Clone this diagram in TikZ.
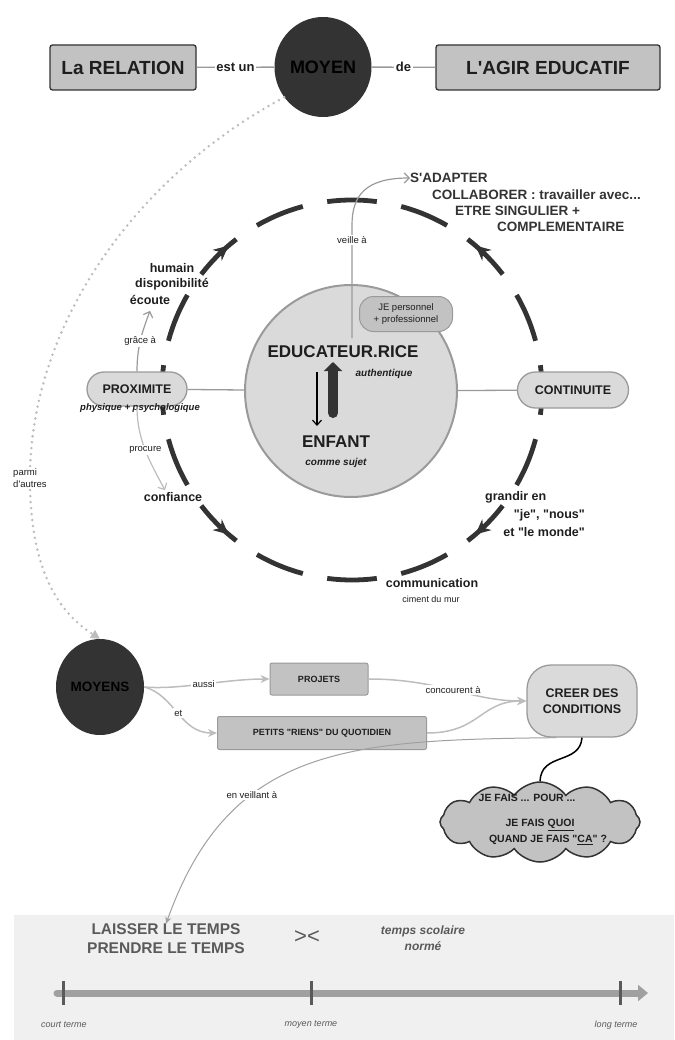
\documentclass[tikz,border=0pt]{standalone}
\usepackage{fontspec}
\setmainfont{Liberation Sans}[Ligatures=TeXOff]
\usetikzlibrary{arrows.meta,shapes.geometric,shapes.symbols,decorations.markings,calc}
\definecolor{dk}{HTML}{333333}
\definecolor{txt}{HTML}{1E1E1E}
\definecolor{boxfill}{HTML}{C2C2C2}
\definecolor{lightfill}{HTML}{DADADA}
\definecolor{edge}{HTML}{9A9A9A}
\definecolor{garr}{HTML}{BDBDBD}
\definecolor{band}{HTML}{F0F0F0}
\definecolor{gtxt}{HTML}{5A5A5A}
\definecolor{gline}{HTML}{A0A0A0}
\newcommand{\fsz}[2]{\fontsize{#1pt}{#2pt}\selectfont}
\begin{document}
\begin{tikzpicture}[x=1pt,y=-1pt,
  every node/.style={text=txt, inner sep=0pt},
  topbox/.style={draw=dk, line width=1.3pt, fill=boxfill, rounded corners=2.5pt, minimum height=45pt, font=\bfseries\fsz{19}{22}},
  darkcirc/.style={ellipse, fill=dk, text=black, font=\bfseries\fsz{18}{20}},
  pill/.style={draw=edge, line width=1.3pt, fill=lightfill, rounded corners=17pt, font=\bfseries\fsz{12.5}{14}},
  seg/.style={draw=dk, line width=4.8pt},
  thinl/.style={draw=edge, line width=1.3pt},
  lab/.style={fill=white, inner sep=1.5pt, font=\fsz{9.5}{11}},
  circlab/.style={font=\bfseries\fsz{12.5}{15}},
  garrow/.style={draw=garr, line width=1.5pt, -{Stealth[length=9pt,width=8pt]}},
  chev/.style={draw=edge, line width=1.2pt, -{Straight Barb[length=5pt,width=10pt]}},
  smallbox/.style={draw=edge, line width=1pt, fill=boxfill, rounded corners=2pt, font=\bfseries\fsz{9}{11}},
  arrseg/.style={seg, postaction=decorate, decoration={markings, mark=at position 0.8 with {\arrow{Stealth[length=15pt,width=14pt]}}}},
]
\useasboundingbox (0,0) rectangle (674,1040);
\fill[band] (14,915) rectangle (674,1040);

% ---------- top row
\node[topbox, minimum width=146pt] (rel) at (123,67.5) {La RELATION};
\node[darkcirc, minimum width=97pt, minimum height=100pt] (moyen) at (323,67) {MOYEN};
\node[topbox, minimum width=224pt] (agir) at (548,67.5) {L'AGIR EDUCATIF};
\draw[thinl] (rel) -- node[lab, font=\bfseries\fsz{13}{15}] (estun) {est un} (moyen);
\draw[thinl] (moyen) -- node[lab, font=\bfseries\fsz{13}{15}] (de) {de} (agir);

% ---------- dashed circle
\coordinate (C) at (352,390);
\foreach \a in {240,262.5,285,330,352.5,15,60,82.5,105,150,172.5,195}
  \draw[seg] ($(C)+(\a:190)$) arc[start angle=\a, delta angle=15, radius=190];
\draw[arrseg] ($(C)+(217.5:190)$) arc[start angle=217.5, delta angle=15, radius=190];
\draw[arrseg] ($(C)+(322.5:190)$) arc[start angle=322.5, delta angle=-15, radius=190];
\draw[arrseg] ($(C)+(37.5:190)$) arc[start angle=37.5, delta angle=15, radius=190];
\draw[arrseg] ($(C)+(142.5:190)$) arc[start angle=142.5, delta angle=-15, radius=190];

% ---------- centre
\node[circle, draw=edge, line width=2pt, fill=lightfill, minimum size=212pt] (edu) at (351,391) {};
\node[font=\bfseries\fsz{17}{20}] (edut) at (343,352) {EDUCATEUR.RICE};
\node[font=\bfseries\itshape\fsz{10}{12}] (auth) at (384,374) {authentique};
\node[font=\bfseries\fsz{17}{20}] (enf) at (336,442) {ENFANT};
\node[font=\bfseries\itshape\fsz{10}{12}] (sujet) at (336,463) {comme sujet};
\coordinate (up0) at (333,413);
\coordinate (up1) at (333,362);
\draw[draw=dk, line width=10pt, line cap=round, -{Triangle[length=9pt,width=18pt]}] (up0) -- (up1);
\coordinate (dn0) at (317,372);
\coordinate (dn1) at (317,426);
\draw[draw=black, line width=1.2pt, -{Straight Barb[length=5pt,width=9pt]}] (dn0) -- (dn1);
\node[draw=edge, line width=1pt, fill=boxfill, rounded corners=14pt, minimum width=93pt, minimum height=35pt, align=center, font=\fsz{9.5}{11.5}] (je) at (406,314) {JE personnel\\+ professionnel};

% ---------- side nodes
\node[pill, minimum width=100pt, minimum height=34pt] (prox) at (137,389) {PROXIMITE};
\node[pill, minimum width=111pt, minimum height=36pt, rounded corners=18pt] (cont) at (573,390) {CONTINUITE};
\node[font=\bfseries\itshape\fsz{9.5}{11}] (proxsub) at (140,408) {physique + psychologique};
\draw[thinl] (prox) -- (edu);
\draw[thinl] (edu) -- (cont);

% ---------- veille a
\coordinate (vstart) at (352,338);
\coordinate (vmid) at (352,225);
\node[anchor=west, font=\bfseries\fsz{13.5}{15}, text=dk] (adapt) at (410,178) {S'ADAPTER};
\node[anchor=west, font=\bfseries\fsz{13.5}{15}, text=dk] (collab) at (432,195) {COLLABORER : travailler avec...};
\node[anchor=west, font=\bfseries\fsz{13.5}{15}, text=dk] (etre) at (455,211) {ETRE SINGULIER +};
\node[anchor=west, font=\bfseries\fsz{13.5}{15}, text=dk] (compl) at (497,227) {COMPLEMENTAIRE};
\draw[chev] (vstart) -- node[lab, pos=0.87] (veille) {veille à} (vmid) .. controls (352,195) and (366,178) .. (adapt.west);

% ---------- circle labels
\node[circlab] (humain) at (172,268) {humain};
\node[circlab] (dispo) at (172,284) {disponibilité};
\node[circlab] (ecoute) at (150,300) {écoute};
\node[circlab] (conf) at (173,497) {confiance};
\node[circlab] (comm) at (432,583) {communication};
\node[font=\fsz{9}{11}] (ciment) at (431,599) {ciment du mur};
\node[circlab, anchor=west] (gr1) at (485,497) {grandir en};
\node[circlab, anchor=east] (gr2) at (585,515) {"je", "nous"};
\node[circlab, anchor=east] (gr3) at (585,532) {et "le monde"};

\draw[chev] (prox.north) .. controls (137,345) and (143,330) .. node[lab, pos=0.45] (grace) {grâce à} ($(ecoute.south)+(0,6)$);
\draw[chev, draw=garr] (prox.south) .. controls (137,440) and (150,462) .. node[lab, pos=0.5] (procure) {procure} ($(conf.north)+(-8,-2)$);

% ---------- dotted
\node[darkcirc, minimum width=88pt, minimum height=96pt, font=\bfseries\fsz{13.5}{15}] (moyens) at (100,687) {MOYENS};
\draw[draw=garr, line width=2.8pt, line cap=round, dash pattern=on 0pt off 6pt, -{Triangle[length=9pt,width=9pt]}]
  (moyen.218) .. controls (130,180) and (30,330) .. (30,478)
  node[lab, align=left, font=\fsz{9.5}{12}, pos=1] (parmi) {parmi\\d'autres}
  .. controls (30,565) and (55,610) .. (moyens.north);

% ---------- lower row
\node[smallbox, minimum width=98pt, minimum height=32pt] (proj) at (319,679) {PROJETS};
\node[smallbox, minimum width=209pt, minimum height=33pt] (petits) at (322,733) {PETITS "RIENS" DU QUOTIDIEN};
\node[pill, minimum width=110pt, minimum height=72pt, rounded corners=24pt, align=center, font=\bfseries\fsz{12.5}{16}] (creer) at (582,701) {CREER DES\\CONDITIONS};
\draw[garrow] (moyens.east) .. controls (180,690) and (225,679) .. node[lab, pos=0.5] (aussi) {aussi} (proj.west);
\draw[garrow] (moyens.east) .. controls (175,695) and (180,733) .. node[lab, pos=0.5] (et) {et} (petits.west);
\draw[garrow] (proj.east) .. controls (440,679) and (470,701) .. node[lab, pos=0.5] (conc) {concourent à} (creer.west);
\draw[garrow] (petits.east) .. controls (480,733) and (480,701) .. (creer.west);

% ---------- cloud
\node[cloud, cloud puffs=12, cloud puff arc=110, aspect=2.5, draw=dk, line width=1.5pt, fill=boxfill, minimum width=200pt, minimum height=80pt] (cloud) at (540,822) {};
\node[font=\bfseries\fsz{10.5}{12}] (c1) at (527,798) {JE FAIS ... POUR ...};
\node[font=\bfseries\fsz{10.5}{12}] (c2) at (540,825) {JE FAIS \underline{QUOI}};
\node[font=\bfseries\fsz{10.5}{12}] (c3) at (548,840) {QUAND JE FAIS "\underline{CA}" ?};
\draw[draw=black, line width=1.5pt] (creer.south) .. controls (580,765) and (541,752) .. (cloud.north);

% ---------- bottom band
\node[font=\bfseries\fsz{15.5}{19}, text=gtxt, align=center] (laisser) at (166,939) {LAISSER LE TEMPS\\PRENDRE LE TEMPS};
\node[font=\fsz{22}{24}, text=gtxt] (vs) at (307,937) {><};
\node[font=\bfseries\itshape\fsz{12}{16}, text=gtxt, align=center] (ts) at (423,938) {temps scolaire\\normé};
\draw[draw=gline, line width=1pt, -{Stealth[length=7pt,width=6pt]}] (creer.235) .. controls (350,740) and (230,745) .. node[lab, pos=0.66] (veillant) {en veillant à} (laisser.north);
\coordinate (t0) at (57,993);
\coordinate (t1) at (648,993);
\draw[draw=gline, line width=7pt, line cap=round, -{Triangle[length=10pt,width=16pt]}] (t0) -- (t1);
\foreach \x in {63,311,620} \draw[draw=gtxt, line width=3pt] (\x,981) -- (\x,1005);
\node[font=\itshape\fsz{9}{11}, text=gtxt] (court) at (64,1025) {court terme};
\node[font=\itshape\fsz{9}{11}, text=gtxt] (moyt) at (311,1025) {moyen terme};
\node[font=\itshape\fsz{9}{11}, text=gtxt] (long) at (616,1025) {long terme};
\end{tikzpicture}
\end{document}
